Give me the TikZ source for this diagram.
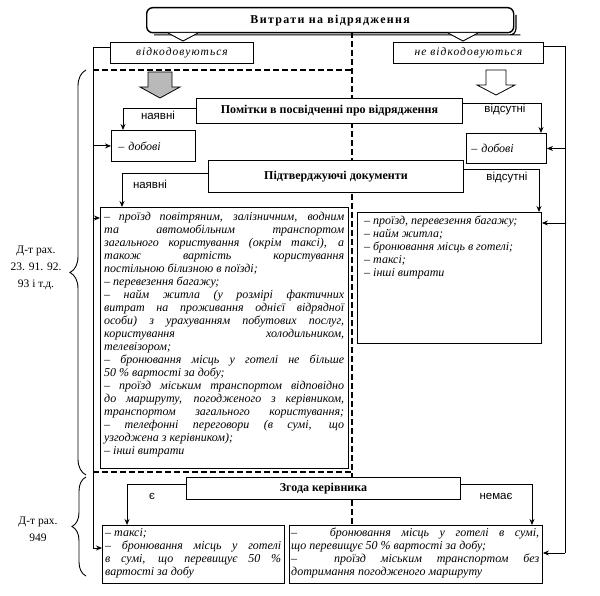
\documentclass[tikz,border=0pt]{standalone}
\usepackage{fontspec}
\setmainfont{Liberation Serif}
\newfontfamily\lblsans{Liberation Sans}
\newfontfamily\spacedserif[LetterSpace=11]{Liberation Serif}
\newfontfamily\spacedit[LetterSpace=9]{Liberation Serif}
\usetikzlibrary{arrows.meta,decorations.pathreplacing}
\newcommand\mjust[1]{\hbox to\linewidth{#1}}
\newcommand\mleft[1]{\hbox to\linewidth{#1\hfil}}
\begin{document}
\begin{tikzpicture}[x=1pt,y=-1pt,
  box/.style={draw, line width=0.9pt, fill=white, inner sep=0pt, anchor=north west},
  head/.style={box, font=\fontsize{12}{14}\selectfont\bfseries},
  itbox/.style={box, font=\spacedit\itshape\fontsize{11.5}{13}\selectfont},
  smallit/.style={box, font=\itshape\fontsize{12}{13}\selectfont, inner xsep=5pt, text width=70pt, align=left},
  arr/.style={line width=0.9pt, -{Stealth[length=6pt,width=5pt]}},
  conn/.style={line width=0.9pt},
  lbl/.style={font=\lblsans\fontsize{11.5}{13}\selectfont, inner sep=0pt},
  dashline/.style={line width=1.6pt, dash pattern=on 6pt off 3pt},
  body/.style={anchor=north west, inner sep=0pt, font=\itshape\fontsize{12}{13}\selectfont},
  bracelbl/.style={font=\fontsize{11.5}{17}\selectfont, align=center, inner sep=0pt},
  bigbrace/.style={line width=0.9pt, decorate, decoration={brace, amplitude=16pt}}
]
\useasboundingbox (0,0) rectangle (600,596);

% dashed region boundaries
\coordinate (dTop) at (352,32);
\coordinate (dBot) at (352,525);
\coordinate (dL1) at (93,70);
\coordinate (dL2) at (93,472);
\draw[dashline] (dTop) -- (dBot);
\draw[dashline] (dL1) -- (dL1 -| dTop);
\draw[dashline] (dL2) -- (dL2 -| dTop);

% title
\node[box, rounded corners=6pt, line width=1.4pt, minimum width=367pt, minimum height=25pt,
      font=\spacedserif\bfseries\fontsize{12}{14}\selectfont] (title) at (146,7) {Витрати на відрядження};
\draw[line width=1.2pt, rounded corners=6pt] ([xshift=8pt,yshift=-1.5pt]title.south west) -- ([yshift=-1.5pt]title.south east) -- ([xshift=1.5pt,yshift=-1.5pt]title.south east) -- ([xshift=1.5pt,yshift=-8pt]title.north east);
\coordinate (tvL) at (168,33);
\coordinate (tvR) at (448,33);
\draw[conn, fill=white] (tvL) -- ++(15,8) -- ++(15,-8);
\draw[conn, fill=white] (tvR) -- ++(15,8) -- ++(15,-8);

\node[itbox, minimum width=143pt, minimum height=21pt] (vid) at (110,42) {відкодовуються};
\node[itbox, minimum width=150pt, minimum height=21pt] (nevid) at (393,42) {не відкодовуються};

% block arrows
\draw[line width=0.8pt, fill=gray!55] (148,72) -- (172,72) -- (172,87) -- (180,87) -- (160,98) -- (140,87) -- (148,87) -- cycle;
\draw[line width=0.8pt, fill=white] (486,70) -- (506,70) -- (506,85) -- (515,85) -- (496,95) -- (477,85) -- (486,85) -- cycle;

% boxes
\node[head, minimum width=266pt, minimum height=25pt] (pom) at (196,98) {Помітки в посвідченні про відрядження};
\node[smallit, minimum width=84pt, minimum height=31pt] (dob1) at (111,130) {– добові};
\node[smallit, minimum width=79pt, minimum height=30pt] (dob2) at (466,133) {– добові};
\node[head, minimum width=255pt, minimum height=32pt] (pid) at (208,160) {Підтверджуючі документи};
\node[box, minimum width=248pt, minimum height=261pt] (big) at (100,207) {};
\node[box, minimum width=184pt, minimum height=131pt] (rbox) at (357,212) {};
\node[head, minimum width=274pt, minimum height=22pt] (zg) at (186,477) {Згода керівника};
\node[box, minimum width=182pt, minimum height=58pt] (bl) at (102,525) {};
\node[box, minimum width=253pt, minimum height=58pt] (br) at (289,525) {};

% box texts
\node[body] (bigtext) at (104,212) {\parbox[t]{240pt}{%
\mjust{– проїзд повітряним, залізничним, водним}
\mjust{та автомобільним транспортом}
\mjust{загального користування (окрім таксі), а}
\mjust{також вартість користування}
\mleft{постільною білизною в поїзді;}
\mleft{– перевезення багажу;}
\mjust{– найм житла (у розмірі фактичних}
\mjust{витрат на проживання однієї відрядної}
\mjust{особи) з урахуванням побутових послуг,}
\mjust{користування холодильником,}
\mleft{телевізором;}
\mjust{– бронювання місць у готелі не більше}
\mleft{50 \% вартості за добу;}
\mjust{– проїзд міським транспортом відповідно}
\mjust{до маршруту, погодженого з керівником,}
\mjust{транспортом загального користування;}
\mjust{– телефонні переговори (в сумі, що}
\mleft{узгоджена з керівником);}
\mleft{– інші витрати}}};

\node[body] (rtext) at (364,216) {\parbox[t]{172pt}{%
\mleft{– проїзд, перевезення багажу;}
\mleft{– найм житла;}
\mleft{– бронювання місць в готелі;}
\mleft{– таксі;}
\mleft{– інші витрати}}};

\node[body] (bltext) at (105,528) {\parbox[t]{176pt}{%
\mleft{– таксі;}
\mjust{– бронювання місць у готелі}
\mjust{в сумі, що перевищує 50 \%}
\mleft{вартості за добу}}};

\node[body] (brtext) at (291,528) {\parbox[t]{248pt}{%
\mjust{–\hspace{22pt} бронювання місць у готелі в сумі,}
\mleft{що перевищує 50 \% вартості за добу;}
\mjust{–\hspace{22pt} проїзд міським транспортом без}
\mleft{дотримання погодженого маршруту}}};

% outer left line with arrows
\coordinate (Lbot) at (93,548);
\coordinate (Lb1) at (93,218);
\draw[conn] ([yshift=5pt]vid.west) -| (Lbot);
\draw[arr] (dob1.west -| Lbot) -- (dob1.west);
\draw[arr] (Lb1) -- (Lb1 -| big.west);
\draw[arr] (Lbot) -- (Lbot -| bl.west);

% outer right line with arrows
\coordinate (Rbot) at (565,553);
\coordinate (Rb1) at (565,223);
\draw[conn] ([yshift=6pt]nevid.east) -| (Rbot);
\draw[arr] (dob2.east -| Rbot) -- (dob2.east);
\draw[arr] (Rb1) -- (Rb1 -| rbox.east);
\draw[arr] (Rbot) -- (Rbot -| br.east);

% branch connectors
\coordinate (p1) at (123,108);
\coordinate (p2) at (541,103);
\coordinate (q1) at (122,173);
\coordinate (q2) at (539,169);
\coordinate (z1) at (127,484);
\coordinate (z2) at (532,484);
\draw[arr] (p1 -| pom.west) -- (p1) -- (p1 |- dob1.north);
\draw[arr] (p2 -| pom.east) -- (p2) -- (p2 |- dob2.north);
\draw[arr] (q1 -| pid.west) -- (q1) -- (q1 |- big.north);
\draw[arr] (q2 -| pid.east) -- (q2) -- (q2 |- rbox.north);
\draw[arr] (z1 -| zg.west) -- (z1) -- (z1 |- bl.north);
\draw[arr] (z2 -| zg.east) -- (z2) -- (z2 |- br.north);

% labels
\node[lbl] (la1) at (158,115) {наявні};
\node[lbl] (la2) at (505,110) {відсутні};
\node[lbl] (la3) at (150,184) {наявні};
\node[lbl] (la4) at (507,178) {відсутні};
\node[lbl] (la5) at (152,496) {є};
\node[lbl] (la6) at (496,496) {немає};

% braces
\coordinate (b1s) at (86,475);
\coordinate (b1e) at (86,70);
\coordinate (b2s) at (86,576);
\coordinate (b2e) at (86,477);
\draw[bigbrace] (b1s) -- (b1e);
\draw[bigbrace, decoration={amplitude=14pt}] (b2s) -- (b2e);
\node[bracelbl] (d1) at (36,268) {Д-т рах.\\23. 91. 92.\\93 і т.д.};
\node[bracelbl] (d2) at (38,529) {Д-т рах.\\949};
\end{tikzpicture}
\end{document}
